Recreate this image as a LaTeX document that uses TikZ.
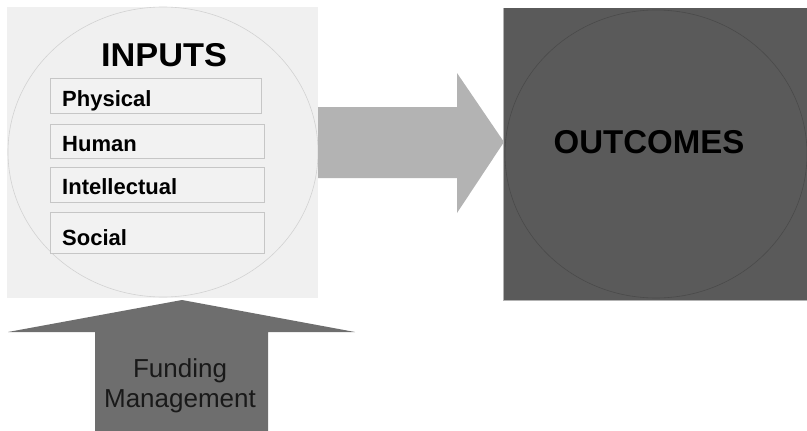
\documentclass[tikz,border=0pt]{standalone}
\usepackage{fontspec}
\setmainfont{Liberation Sans}
\begin{document}
\begin{tikzpicture}[x=1pt,y=-1pt,
  itembox/.style={draw=gray!45, line width=0.6pt, fill=gray!10},
  itemtext/.style={anchor=base west, font=\fontsize{22}{24}\selectfont\bfseries, inner sep=0pt}
]
\useasboundingbox (0,0) rectangle (807,431);
\definecolor{inbg}{HTML}{F0F0F0}
\definecolor{outbg}{HTML}{5A5A5A}
\definecolor{flowgray}{HTML}{B3B3B3}
\definecolor{fundgray}{HTML}{6E6E6E}

% inputs panel
\fill[inbg] (7,7) rectangle (318,298);
\draw[gray!35, line width=0.6pt] (163,152) ellipse [x radius=155, y radius=145];
\node[font=\fontsize{33}{36}\selectfont\bfseries, inner sep=0pt, xscale=1.04] (inputs) at (164,55) {INPUTS};

\draw[itembox] (50,78) rectangle (261,113);
\draw[itembox] (50,124) rectangle (264,158);
\draw[itembox] (50,167) rectangle (264,202);
\draw[itembox] (50,212) rectangle (264,253);
\node[itemtext] (physical) at (62,106) {Physical};
\node[itemtext] (human) at (62,151) {Human};
\node[itemtext] (intellectual) at (62,194) {Intellectual};
\node[itemtext] (social) at (62,245) {Social};

% outcomes panel
\fill[outbg] (503,8) rectangle (807,300);
\draw[gray!60, line width=0.6pt] (503,8) -- (503,300) -- (807,300);
\draw[black!18!outbg, line width=0.6pt] (656,154) ellipse [x radius=151, y radius=144];
\node[font=\fontsize{33}{36}\selectfont\bfseries, inner sep=0pt] (outcomes) at (649,142) {OUTCOMES};

% flow arrow from inputs to outcomes
\fill[flowgray] (318,107) -- (457,107) -- (457,73) -- (504,142) -- (457,213) -- (457,178) -- (318,178) -- cycle;

% funding arrow pointing up into inputs
\fill[fundgray] (95,431) -- (95,332) -- (8,332) -- (182,300) -- (355,332) -- (268,332) -- (268,431) -- cycle;
\node[font=\fontsize{26}{30}\selectfont, text=black!90, align=center, inner sep=0pt] (funding) at (180,386) {Funding\\Management};
\end{tikzpicture}
\end{document}
